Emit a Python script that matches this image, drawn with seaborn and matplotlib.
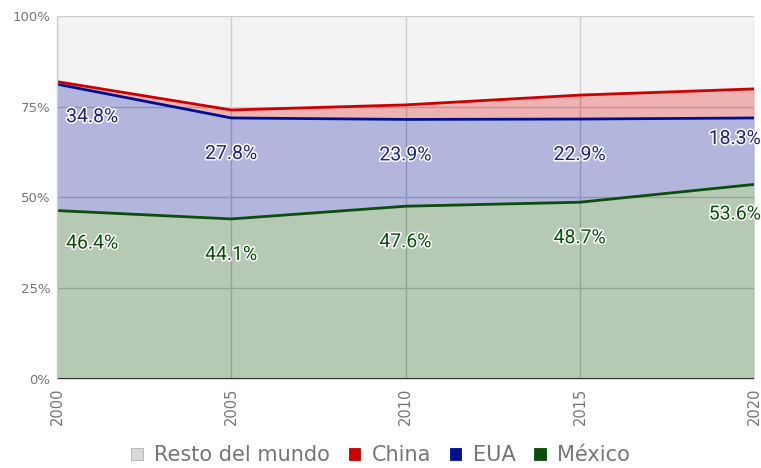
import matplotlib
matplotlib.use("Agg")
import matplotlib.pyplot as plt
import matplotlib.patheffects as pe
from matplotlib.patches import Patch
import numpy as np
import pandas as pd
import seaborn as sns

years = [2000, 2005, 2010, 2015, 2020]
mexico = [46.4, 44.1, 47.6, 48.7, 53.6]
eua = [34.8, 27.8, 23.9, 22.9, 18.3]
china = [0.7, 2.2, 4.0, 6.6, 8.0]
resto = [round(100 - m - e - c, 1) for m, e, c in zip(mexico, eua, china)]
series_names = ["México", "EUA", "China", "Resto del mundo"]
y_ticks = [0, 25, 50, 75, 100]

colors = {"México": "#0b4d0b", "EUA": "#000f8f", "China": "#cc0000",
          "Resto del mundo": "#d9d9d9"}

sns.set_theme(style="white")
plt.rcParams["font.family"] = ["Roboto", "DejaVu Sans"]
axis_font = ["DejaVu Sans"]

# cumulative boundaries of the stacked areas
stack = np.cumsum(np.array([mexico, eua, china, resto]), axis=0)
lower = np.vstack([np.zeros(len(years)), stack[:-1]])

long = pd.DataFrame({
    "year": np.tile(years, 3),
    "top": np.concatenate([stack[0], stack[1], stack[2]]),
    "serie": np.repeat(series_names[:3], len(years)),
})

fig = plt.figure(figsize=(7.61, 4.68), dpi=100)
ax = fig.add_axes([0.075, 0.19, 0.916, 0.776])

# grid underneath translucent areas
for t in y_ticks[1:]:
    ax.axhline(t, color="#cccccc", lw=1, zorder=0)
for yr in years[1:]:
    ax.axvline(yr, color="#cccccc", lw=1, zorder=0)
ax.axhline(0, color="#333333", lw=1.5, zorder=0)

for i, name in enumerate(series_names):
    ax.fill_between(years, lower[i], stack[i], color=colors[name],
                    alpha=0.3, lw=0, zorder=1)

sns.lineplot(data=long, x="year", y="top", hue="serie",
             palette=[colors[n] for n in series_names[:3]],
             hue_order=series_names[:3], lw=2, legend=False, ax=ax, zorder=2)

ax.set_xlim(years[0], years[-1])
ax.set_ylim(0, 100)
ax.set_yticks(y_ticks)
ax.set_yticklabels([f"{t}%" for t in y_ticks], color="#757575", fontsize=9.5,
                   family=axis_font)
ax.set_xticks(years)
ax.set_xticklabels([str(y) for y in years], rotation=90, color="#757575",
                   fontsize=10.5, family=axis_font)
ax.tick_params(axis="y", length=0, pad=5)
ax.tick_params(axis="x", length=0, pad=6)
ax.set_xlabel("")
ax.set_ylabel("")
for side in ["top", "right", "bottom"]:
    ax.spines[side].set_visible(False)
ax.spines["left"].set_color("#cccccc")
ax.spines["left"].set_linewidth(1)

stroke = [pe.withStroke(linewidth=2.2, foreground="white")]
label_series = [("México", mexico, stack[0], "#0b4d0b"),
                ("EUA", eua, stack[1], "#1a237e")]
n = len(years)
for name, vals, tops, col in label_series:
    for j, (yr, v, top) in enumerate(zip(years, vals, tops)):
        if j == 0:
            ha, dx, dy = "left", 9, -33
        elif j == n - 1:
            ha, dx, dy = "right", 7, (-30 if name == "México" else -21)
        else:
            ha, dx, dy = "center", 0, -36
        ax.annotate(f"{v}%", xy=(yr, top), xytext=(dx, dy),
                    textcoords="offset pixels", ha=ha, va="center",
                    fontsize=14, color=col, path_effects=stroke,
                    zorder=5, annotation_clip=False)

handles = [Patch(facecolor=colors[nm], edgecolor=("#b0b0b0" if nm == "Resto del mundo" else colors[nm]),
                 lw=0.6) for nm in series_names[::-1]]
leg = fig.legend(handles, series_names[::-1], loc="center", ncol=4,
                 bbox_to_anchor=(0.5, 0.027), frameon=False,
                 handlelength=0.55, handleheight=0.55, handletextpad=0.55,
                 columnspacing=0.9, borderpad=0.2,
                 prop={"family": axis_font, "size": 15})
for t in leg.get_texts():
    t.set_color("#757575")

fig.savefig("out.png", dpi=100, facecolor="white")
